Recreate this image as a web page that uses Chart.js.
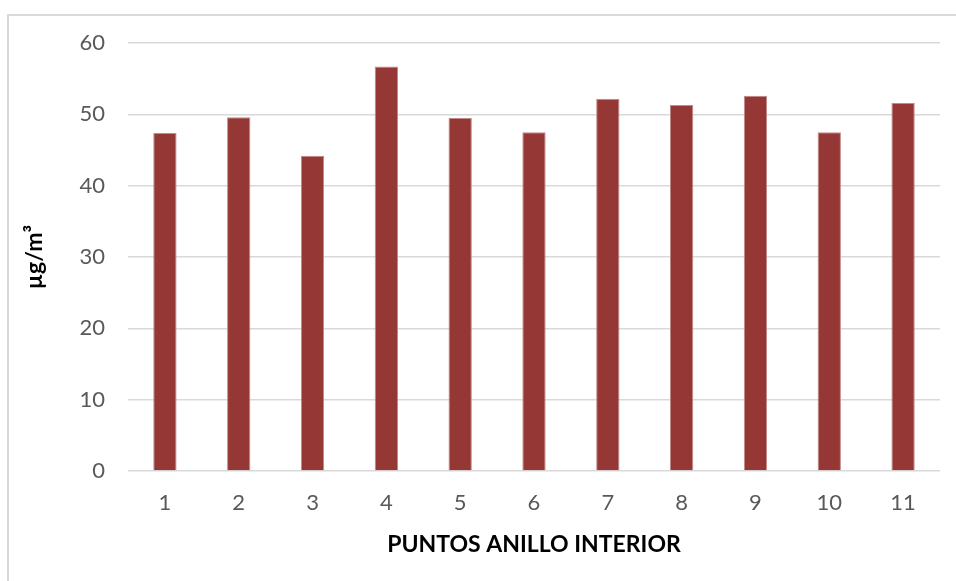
<!DOCTYPE html>
<html>
<head>
<meta charset="utf-8">
<script src="https://cdn.jsdelivr.net/npm/chart.js@4/dist/chart.umd.min.js"></script>
<style>
  html, body { margin: 0; padding: 0; background: #fff; overflow: hidden; }
  #frame { position: absolute; left: 7px; top: 14px; width: 1000px; height: 700px; border: 2px solid #d9d9d9; box-sizing: border-box; }
  #wrap { position: absolute; left: 0; top: 0; width: 956px; height: 581px; }
</style>
</head>
<body>
<div id="frame"></div>
<div id="wrap"><canvas id="canvas1"></canvas></div>
<script>
const puntos = ['1', '2', '3', '4', '5', '6', '7', '8', '9', '10', '11'];
const concentracion = [47.4, 49.6, 44.2, 56.7, 49.5, 47.5, 52.2, 51.3, 52.6, 47.5, 51.6];
const yTicks = [0, 10, 20, 30, 40, 50, 60];

const ctx1 = document.getElementById('canvas1').getContext('2d');

const myChart1 = new Chart(ctx1, {
    type: 'bar',
    data: {
        labels: puntos,
        datasets: [{
            label: 'µg/m³',
            data: concentracion,
            backgroundColor: '#953735',
            borderColor: '#c08a89',
            borderWidth: { top: 1, left: 1, right: 1, bottom: 0 },
            categoryPercentage: 1,
            barPercentage: 0.316
        }]
    },
    options: {
        responsive: true,
        maintainAspectRatio: false,
        animation: false,
        layout: { padding: { left: 0, right: 16, top: 43, bottom: 0 } },
        plugins: {
            legend: { display: false },
            tooltip: { enabled: false }
        },
        scales: {
            x: {
                grid: { display: false, drawTicks: false },
                border: { display: false },
                ticks: { color: '#595959', font: { family: 'Lato', size: 22 }, padding: 19 },
                title: {
                    display: true,
                    text: 'PUNTOS ANILLO INTERIOR',
                    color: '#000',
                    font: { family: 'Lato', size: 23, weight: 'bold' },
                    padding: { top: 0, bottom: 23 }
                },
                afterFit: (scale) => { scale.height = 110; }
            },
            y: {
                min: 0,
                max: 60,
                afterBuildTicks: (scale) => { scale.ticks = yTicks.map(v => ({ value: v })); },
                grid: { color: '#d9d9d9', lineWidth: 1.5, drawTicks: false },
                border: { display: false },
                ticks: { color: '#595959', font: { family: 'Lato', size: 22 }, padding: 23 },
                title: {
                    display: true,
                    text: 'µg/m³',
                    color: '#000',
                    font: { family: 'Lato', size: 23, weight: 'bold' },
                    padding: { top: 21, bottom: 0 }
                },
                afterFit: (scale) => { scale.width = 128; }
            }
        }
    }
});
</script>
</body>
</html>
